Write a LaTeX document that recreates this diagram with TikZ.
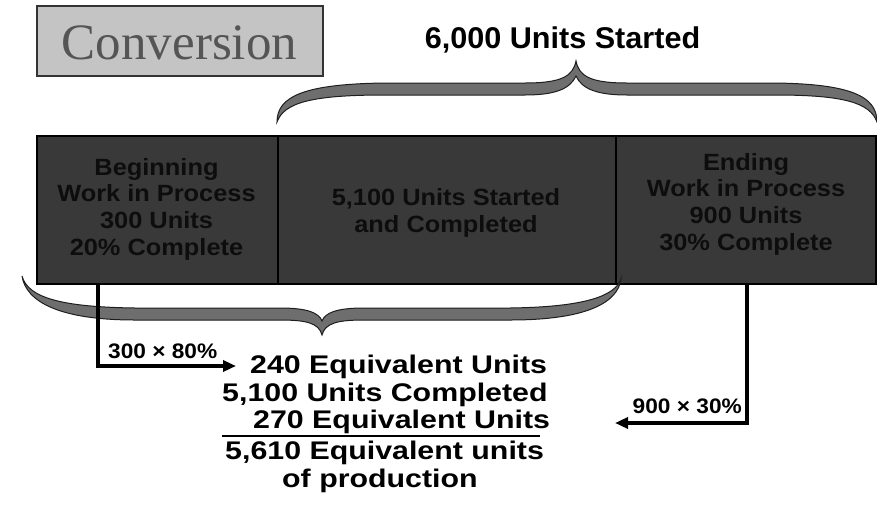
\documentclass[tikz,border=0pt]{standalone}
\usepackage{fontspec}
\setmainfont{Liberation Sans}
\newfontfamily\convfont{Liberation Serif}
\newfontfamily\titlefont[FakeStretch=1.02]{Liberation Sans}
\newfontfamily\boxfont[FakeStretch=1.08]{Liberation Sans}
\newfontfamily\eqfont[FakeStretch=1.19]{Liberation Sans}
\newfontfamily\lblfont[FakeStretch=1.08]{Liberation Sans}
\usetikzlibrary{arrows.meta,calc}
\definecolor{panelgray}{HTML}{393939}
\definecolor{bracegray}{HTML}{6E6E6E}
\definecolor{braceline}{HTML}{1E1E1E}
\definecolor{convfill}{HTML}{C4C4C4}
\definecolor{convline}{HTML}{333333}
\definecolor{convtext}{HTML}{555555}
\definecolor{paneltext}{HTML}{0D0D0D}
\tikzset{
  panel/.style={draw=black, line width=2.2pt, fill=panelgray, inner sep=0pt, anchor=north west},
  boxtext/.style={align=center, text=paneltext, font={\boxfont\bfseries\fontsize{23.5}{26.7}\selectfont}},
  eqtext/.style={anchor=base west, inner sep=0pt, font={\eqfont\bfseries\fontsize{25.5}{28}\selectfont}},
  lbltext/.style={inner sep=0pt, font={\lblfont\bfseries\fontsize{21}{24}\selectfont}},
  bracestyle/.style={fill=bracegray, draw=braceline, line width=1pt},
  conn/.style={line width=3.5pt, -{Triangle[length=13pt,width=11pt]}},
}
\begin{document}
\begin{tikzpicture}[x=1pt,y=-1pt]
\useasboundingbox (0,0) rectangle (877,509);

% Conversion label box
\node[draw=convline, line width=1.5pt, fill=convfill, minimum width=286pt, minimum height=70pt, inner sep=0pt, anchor=north west] (conv) at (36,5) {};
\node[anchor=base, inner sep=0pt, text=convtext, font={\convfont\fontsize{51}{56}\selectfont}] (convtxt) at (179.5,59) {Conversion};

% title
\node[anchor=base, inner sep=0pt, font={\titlefont\bfseries\fontsize{30}{34}\selectfont}] (title) at (562.5,48) {6,000 Units Started};

% panels
\node[panel, minimum width=241pt, minimum height=148pt] (p1) at (36,135) {};
\node[panel, minimum width=338pt, minimum height=148pt] (p2) at (277,135) {};
\node[panel, minimum width=260pt, minimum height=148pt] (p3) at (615,135) {};

\node[boxtext] (t1) at (156.5,209) {Beginning\\Work in Process\\300 Units\\20\% Complete};
\node[boxtext] (t2) at (446,213) {5,100 Units Started\\and Completed};
\node[boxtext] (t3) at (746,204) {Ending\\Work in Process\\900 Units\\30\% Complete};

% top brace
\path[bracestyle] (277,122) .. controls (277,96) and (305,84) .. (385,83) -- (525,83)
  .. controls (562,83) and (573,76) .. (576,61) .. controls (579,76) and (590,83) .. (627,83)
  -- (775,83) .. controls (850,84) and (877,96) .. (877,122)
  .. controls (870,103) and (845,95) .. (775,95) -- (627,95)
  .. controls (597,95) and (582,89) .. (576,76) .. controls (570,89) and (555,95) .. (525,95)
  -- (385,95) .. controls (310,95) and (284,103) .. (277,122) -- cycle;

% bottom brace
\path[bracestyle] (22,276) .. controls (28,298) and (62,307) .. (135,308) -- (280,308)
  .. controls (308,308) and (319,313) .. (322,321) .. controls (325,313) and (336,308) .. (364,308)
  -- (510,308) .. controls (585,307) and (615,296) .. (621,279)
  .. controls (618,302) and (588,320) .. (510,320) -- (364,320)
  .. controls (338,320) and (325,323) .. (322,335) .. controls (319,323) and (306,320) .. (280,320)
  -- (135,320) .. controls (60,320) and (26,302) .. (22,276) -- cycle;

% result lines
\node[eqtext] (l1) at (250,373) {240 Equivalent Units};
\node[eqtext] (l2) at (222,401) {5,100 Units Completed};
\node[eqtext] (l3) at (253,428) {270 Equivalent Units};
\node[eqtext] (l4) at (225,459) {5,610 Equivalent units};
\node[eqtext] (l5) at (282,487) {of production};
\draw[line width=2pt] (222,436) -- (540,436);

% connectors
\coordinate (s1) at (98,283);
\coordinate (e1) at (236,366);
\coordinate (s2) at (747,283);
\coordinate (e2) at (615,423);
\draw[conn] (s1) |- (e1);
\draw[conn] (s2) |- (e2);
\node[lbltext, anchor=base west] (lab1) at (108,358) {300 × 80\%};
\node[lbltext, anchor=base east] (lab2) at (742,413) {900 × 30\%};
\end{tikzpicture}
\end{document}
